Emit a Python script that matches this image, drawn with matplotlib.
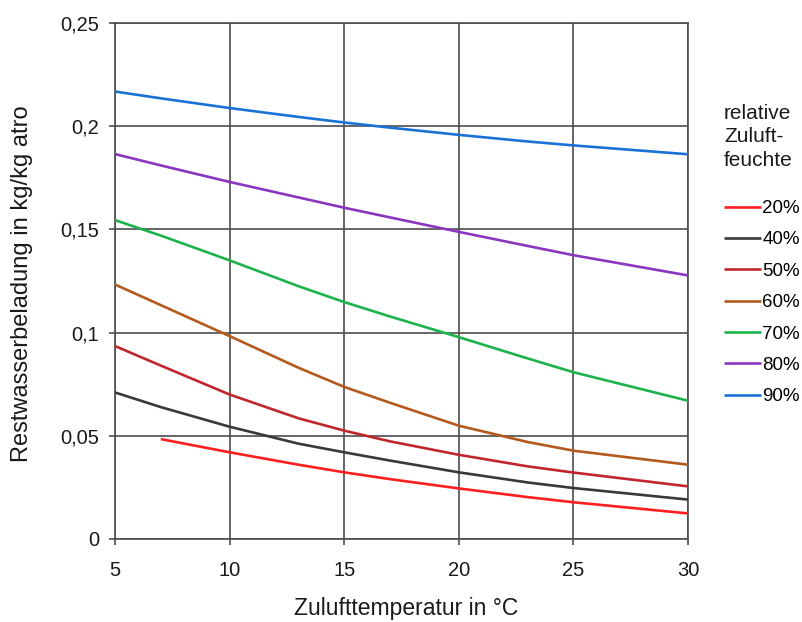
import matplotlib
matplotlib.use("Agg")
import matplotlib.pyplot as plt

plt.rcParams['font.family'] = ['Liberation Sans', 'DejaVu Sans']

# --- data ---
temp = [5, 7, 10, 13, 15, 17, 20, 23, 25, 30]
temp_20 = [7, 10, 13, 15, 17, 20, 23, 25, 30]

rh_20 = [0.0484, 0.0420, 0.0360, 0.0323, 0.0290, 0.0245, 0.0203, 0.0178, 0.0124]
rh_40 = [0.0710, 0.0639, 0.0544, 0.0462, 0.0420, 0.0380, 0.0323, 0.0274, 0.0247, 0.0191]
rh_50 = [0.0935, 0.0840, 0.0700, 0.0585, 0.0525, 0.0473, 0.0408, 0.0352, 0.0322, 0.0255]
rh_60 = [0.1233, 0.1133, 0.0983, 0.0830, 0.0737, 0.0660, 0.0549, 0.0470, 0.0428, 0.0360]
rh_70 = [0.1545, 0.1470, 0.1350, 0.1225, 0.1148, 0.1078, 0.0978, 0.0875, 0.0808, 0.0670]
rh_80 = [0.1865, 0.1810, 0.1730, 0.1655, 0.1605, 0.1558, 0.1488, 0.1420, 0.1375, 0.1277]
rh_90 = [0.2168, 0.2135, 0.2088, 0.2045, 0.2018, 0.1993, 0.1958, 0.1926, 0.1907, 0.1864]

labels = ['20%', '40%', '50%', '60%', '70%', '80%', '90%']
colors = ['#ff1f1f', '#3a3a34', '#c0262c', '#b35a1c', '#1db34c', '#8a36c0', '#1a72d6']

x_ticks = [5, 10, 15, 20, 25, 30]
y_ticks = [0, 0.05, 0.1, 0.15, 0.2, 0.25]
y_tick_labels = ['0', '0,05', '0,1', '0,15', '0,2', '0,25']

series = [(temp_20, rh_20), (temp, rh_40), (temp, rh_50), (temp, rh_60),
          (temp, rh_70), (temp, rh_80), (temp, rh_90)]

fig = plt.figure(figsize=(8.03, 6.22), dpi=100)
ax = fig.add_axes([115/803, 1 - 539/622, (688 - 115)/803, (539 - 23)/622])

lines = []
for (xs, ys), lab, col in zip(series, labels, colors):
    ln, = ax.plot(xs, ys, color=col, lw=1.9, label=lab, solid_capstyle='butt',
                  solid_joinstyle='round', zorder=3)
    lines.append(ln)

ax.set_xlim(5, 30)
ax.set_ylim(0, 0.25)
ax.set_xticks(x_ticks)
ax.set_yticks(y_ticks)
ax.set_yticklabels(y_tick_labels)
ax.grid(True, color='#4d4d4d', lw=1.2, zorder=1)
for sp in ax.spines.values():
    sp.set_color('#4d4d4d')
    sp.set_linewidth(1.2)
ax.tick_params(axis='both', colors='#4d4d4d', length=4.5, width=1.2,
               labelsize=14.5, labelcolor='#1a1a1a')
ax.tick_params(axis='x', pad=11)
ax.tick_params(axis='y', pad=7)

fig.text(22/803, 1 - 284/622, 'Restwasserbeladung in kg/kg atro', rotation=90,
         ha='center', va='center', fontsize=17, color='#1a1a1a')
fig.text(406/803, 1 - 609/622, 'Zulufttemperatur in °C',
         ha='center', va='center', fontsize=16.5, color='#1a1a1a')

fig.text(724/803, 1 - 104/622, 'relative\nZuluft-\nfeuchte', ha='left', va='top',
         fontsize=15, linespacing=1.3, color='#1a1a1a')

fig.legend(lines, labels, loc='upper left', bbox_to_anchor=(724/803, 1 - 200/622),
           frameon=False, fontsize=13.5, handlelength=2.0, handletextpad=0.05,
           labelspacing=0.76, borderpad=0, borderaxespad=0)

fig.savefig('out.png', dpi=100)
